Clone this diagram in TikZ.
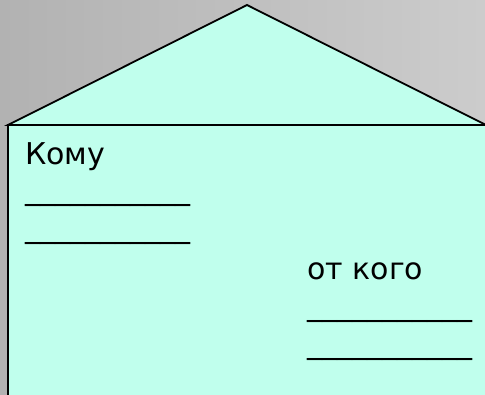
\documentclass[tikz,border=0pt]{standalone}
\usepackage{fontspec}
\setmainfont{DejaVu Sans}
\definecolor{envfill}{RGB}{192,255,237}
\definecolor{bgleft}{RGB}{178,178,178}
\definecolor{bgright}{RGB}{204,204,204}
\begin{document}
\begin{tikzpicture}[
  x=1pt, y=-1pt,
  envelope/.style={draw=black, fill=envfill, line width=1.8pt, line join=miter},
  label/.style={anchor=base west, inner sep=0pt, font=\fontsize{30}{35}\selectfont},
  blank/.style={anchor=base west, inner sep=0pt, font=\fontsize{30}{35}\selectfont}
]
  \useasboundingbox (0,0) rectangle (485,395);
  \shade[left color=bgleft, right color=bgright] (0,0) rectangle (485,395);

  \coordinate (apex)  at (247,5);
  \coordinate (eaveL) at (8,125);
  \coordinate (eaveR) at (486,125);
  \coordinate (baseR) at (490,400);
  \filldraw[envelope] (eaveL) -- (apex) -- (eaveR) -- cycle;
  \filldraw[envelope] (eaveL) rectangle (baseR);

  \node[label] (to)    at (25,165)  {Кому};
  \node[blank] (toA)   at (25,200)  {\_\_\_\_\_\_\_\_\_\_\_};
  \node[blank] (toB)   at (25,238)  {\_\_\_\_\_\_\_\_\_\_\_};
  \node[label] (from)  at (307,280) {от кого};
  \node[blank] (fromA) at (307,316) {\_\_\_\_\_\_\_\_\_\_\_};
  \node[blank] (fromB) at (307,354) {\_\_\_\_\_\_\_\_\_\_\_};
\end{tikzpicture}
\end{document}
